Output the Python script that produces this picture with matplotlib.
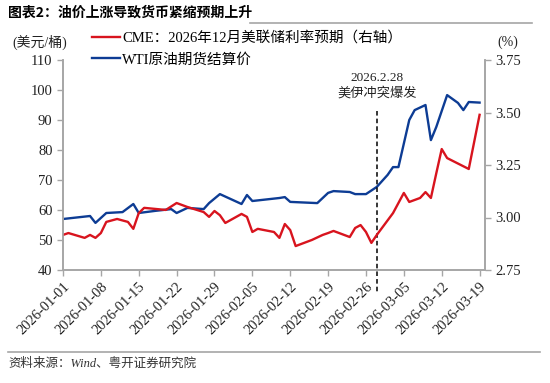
import matplotlib
matplotlib.use("Agg")
import matplotlib.pyplot as plt
import matplotlib.dates as mdates
import numpy as np

plt.rcParams['font.family'] = ['Liberation Serif', 'Noto Sans CJK SC']

# WTI crude settlement price (USD/bbl)
wti_dates = ['2026-01-01', '2026-01-06', '2026-01-07', '2026-01-09', '2026-01-12',
             '2026-01-14', '2026-01-15', '2026-01-18', '2026-01-21', '2026-01-22',
             '2026-01-24', '2026-01-27', '2026-01-28', '2026-01-30', '2026-02-03',
             '2026-02-04', '2026-02-05', '2026-02-10', '2026-02-11', '2026-02-12',
             '2026-02-17', '2026-02-19', '2026-02-20', '2026-02-23', '2026-02-24',
             '2026-02-26', '2026-02-28', '2026-03-02', '2026-03-03', '2026-03-04',
             '2026-03-06', '2026-03-07', '2026-03-09', '2026-03-10', '2026-03-11',
             '2026-03-13', '2026-03-15', '2026-03-16', '2026-03-17', '2026-03-19']
wti = [57.0, 58.0, 55.7, 59.0, 59.3,
       62.0, 59.0, 59.7, 60.3, 59.0,
       60.7, 60.3, 62.3, 65.3, 62.0,
       65.0, 63.0, 64.0, 64.3, 62.7,
       62.3, 65.7, 66.3, 66.0, 65.3,
       65.3, 67.7, 71.7, 74.3, 74.3,
       90.0, 93.3, 95.0, 83.3, 87.7,
       98.3, 95.7, 93.3, 96.0, 95.8]

# CME: Dec-2026 fed funds rate expectation (%), right axis
cme_dates = ['2026-01-01', '2026-01-02', '2026-01-05', '2026-01-06', '2026-01-07',
             '2026-01-08', '2026-01-09', '2026-01-11', '2026-01-13', '2026-01-14',
             '2026-01-15', '2026-01-16', '2026-01-20', '2026-01-22', '2026-01-24',
             '2026-01-27', '2026-01-28', '2026-01-29', '2026-01-30', '2026-01-31',
             '2026-02-03', '2026-02-04', '2026-02-05', '2026-02-06', '2026-02-09',
             '2026-02-10', '2026-02-11', '2026-02-12', '2026-02-13', '2026-02-16',
             '2026-02-18', '2026-02-19', '2026-02-20', '2026-02-23', '2026-02-24',
             '2026-02-25', '2026-02-26', '2026-02-27', '2026-02-28', '2026-03-03',
             '2026-03-04', '2026-03-05', '2026-03-06', '2026-03-08', '2026-03-09',
             '2026-03-10', '2026-03-11', '2026-03-12', '2026-03-13', '2026-03-17',
             '2026-03-19']
cme = [2.917, 2.926, 2.903, 2.917, 2.903,
       2.926, 2.979, 2.993, 2.979, 2.946,
       3.021, 3.046, 3.036, 3.069, 3.050,
       3.026, 3.003, 3.031, 3.011, 2.974,
       3.017, 3.003, 2.931, 2.946, 2.931,
       2.903, 2.969, 2.940, 2.864, 2.893,
       2.917, 2.926, 2.936, 2.907, 2.950,
       2.964, 2.931, 2.879, 2.917, 3.021,
       3.069, 3.117, 3.074, 3.093, 3.121,
       3.093, 3.211, 3.326, 3.283, 3.231,
       3.489]

tick_dates = ['2026-01-01', '2026-01-08', '2026-01-15', '2026-01-22', '2026-01-29',
              '2026-02-05', '2026-02-12', '2026-02-19', '2026-02-26', '2026-03-05',
              '2026-03-12', '2026-03-19']
event_date = '2026-02-28'

red = '#d8141e'
blue = '#0d3c94'
grey = '#a6a6a6'

W, H = 550, 383
fig = plt.figure(figsize=(W / 100, H / 100), dpi=100)
ax = fig.add_axes([63 / W, 1 - 270 / H, (485 - 63) / W, 210 / H])
ax2 = ax.twinx()

to_dt = lambda s: np.array(s, dtype='datetime64[D]')

l2, = ax.plot(to_dt(wti_dates), wti, color=blue, lw=1.7, label='WTI原油期货结算价')
l1, = ax2.plot(to_dt(cme_dates), cme, color=red, lw=1.7,
               label='CME：2026年12月美联储利率预期（右轴）')

ax.set_xlim(np.datetime64('2026-01-01'), np.datetime64('2026-03-20'))
ax.set_ylim(40, 110)
ax.set_yticks(range(40, 111, 10))
ax2.set_ylim(2.75, 3.75)
ax2.set_yticks([2.75, 3.00, 3.25, 3.50, 3.75])
ax2.set_yticklabels(['%.2f' % v for v in [2.75, 3.00, 3.25, 3.50, 3.75]])

ax.set_xticks(to_dt(tick_dates))
ax.xaxis.set_major_formatter(mdates.DateFormatter('%Y-%m-%d'))
for lab in ax.get_xticklabels():
    lab.set_rotation(45)
    lab.set_ha('right')
    lab.set_rotation_mode('anchor')
    lab.set_fontsize(9.5)

for a in (ax, ax2):
    a.spines['top'].set_visible(False)
    for s in ('left', 'right', 'bottom'):
        a.spines[s].set_color(grey)
        a.spines[s].set_linewidth(1.2)
    a.tick_params(colors=grey, labelcolor='#222222', labelsize=10.5, length=4, width=1)
ax.tick_params(axis='x', pad=3)

# event line
ev = np.datetime64(event_date)
ax.plot([ev, ev], [93, 32], color='black', lw=1.1, ls=(0, (3, 2)), clip_on=False)
ax.text(ev, 101.5, '2026.2.28\n美伊冲突爆发', ha='center', va='center',
        fontsize=9.5, color='#222222', linespacing=1.25)

# units
fig.text(40 / W, 1 - 42 / H, '(美元/桶)', ha='center', va='center', fontsize=10, color='#222222')
fig.text(508 / W, 1 - 42 / H, '(%)', ha='center', va='center', fontsize=10, color='#222222')

fig.legend(handles=[l1, l2], loc='upper left', bbox_to_anchor=(92 / W, 1 - 31 / H),
           frameon=False, fontsize=10.5, handlelength=1.9, handletextpad=0.15,
           labelspacing=0.55, borderaxespad=0, borderpad=0)

# title and source
fig.text(8 / W, 1 - 13 / H, '图表2：油价上涨导致货币紧缩预期上升', ha='left', va='center',
         fontsize=10, fontweight='bold', family=['Noto Sans CJK SC'])
fig.add_artist(plt.Line2D([250 / W, 532 / W], [1 - 23 / H, 1 - 23 / H], color=grey, lw=1.2))
fig.add_artist(plt.Line2D([8 / W, 540 / W], [1 - 352 / H, 1 - 352 / H], color=grey, lw=1.2))
fig.text(8 / W, 1 - 364 / H, '资料来源：Wind、粤开证券研究院', ha='left', va='center',
         fontsize=9, style='italic', color='#333333')

fig.savefig('out.png', dpi=100)
